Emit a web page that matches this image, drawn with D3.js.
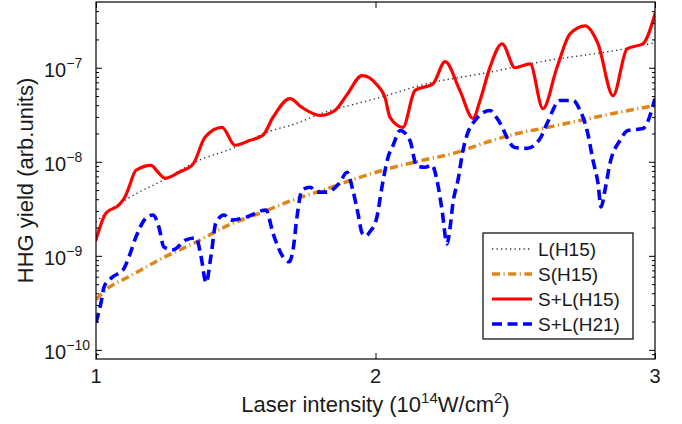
<!DOCTYPE html>
<html>
<head>
<meta charset="utf-8">
<script src="https://cdn.jsdelivr.net/npm/d3@7"></script>
<style>
  body { margin: 0; background: #fff; }
  svg { display: block; font-family: "Liberation Sans", Arial, Helvetica, sans-serif; }
</style>
</head>
<body>
<svg id="chart" width="682" height="424"></svg>
<script>
// Laser intensity in units of 1e14 W/cm^2, harmonic yield in arb. units

// L(H15): long trajectory, harmonic 15
const lIntensity = [1.000, 1.050, 1.122, 1.240, 1.369, 1.490, 1.619, 1.705, 1.837, 1.934, 2.027, 2.170, 2.399, 2.614, 2.850, 3.000];
const lYield     = [2.29e-9, 3.07e-9, 4.21e-9, 6.37e-9, 1.04e-8, 1.39e-8, 2.10e-8, 2.49e-8, 3.51e-8, 4.16e-8, 4.93e-8, 6.61e-8, 8.85e-8, 1.19e-7, 1.51e-7, 1.84e-7];

// S(H15): short trajectory, harmonic 15
const sIntensity = [1.000, 1.036, 1.118, 1.240, 1.358, 1.476, 1.597, 1.705, 1.812, 1.934, 2.052, 2.170, 2.292, 2.374, 2.492, 2.614, 2.732, 2.850, 3.000];
const sYield     = [3.42e-10, 4.37e-10, 6.00e-10, 9.52e-10, 1.40e-9, 2.13e-9, 2.92e-9, 3.92e-9, 4.99e-9, 6.69e-9, 8.53e-9, 1.04e-8, 1.26e-8, 1.53e-8, 1.95e-8, 2.32e-8, 2.75e-8, 3.26e-8, 3.97e-8];

// S+L(H15): coherent sum, harmonic 15
const slIntensity = [1.000, 1.036, 1.082, 1.107, 1.118, 1.143, 1.197, 1.222, 1.247, 1.297, 1.347, 1.390, 1.451, 1.497, 1.551, 1.597, 1.633, 1.694, 1.737, 1.801, 1.855, 1.898, 1.952, 2.005, 2.034, 2.052, 2.098, 2.141, 2.206, 2.249, 2.302, 2.349, 2.374, 2.410, 2.453, 2.499, 2.553, 2.599, 2.649, 2.696, 2.750, 2.796, 2.850, 2.900, 2.957, 3.000];
const slYield     = [1.48e-9, 2.85e-9, 3.47e-9, 4.42e-9, 5.37e-9, 8.13e-9, 9.18e-9, 7.74e-9, 6.69e-9, 7.74e-9, 9.41e-9, 1.82e-8, 2.32e-8, 1.50e-8, 1.69e-8, 1.91e-8, 2.96e-8, 4.70e-8, 3.78e-8, 3.11e-8, 3.51e-8, 5.18e-8, 8.23e-8, 6.61e-8, 4.82e-8, 2.96e-8, 2.32e-8, 5.71e-8, 6.77e-8, 1.16e-7, 5.71e-8, 2.89e-8, 4.48e-8, 1.02e-7, 1.80e-7, 1.00e-7, 1.10e-7, 3.68e-8, 1.00e-7, 2.29e-7, 2.79e-7, 1.80e-7, 5.05e-8, 1.59e-7, 1.80e-7, 3.74e-7];

// S+L(H21): coherent sum, harmonic 21
const sl21Intensity = [1.000, 1.018, 1.029, 1.061, 1.097, 1.118, 1.143, 1.179, 1.204, 1.225, 1.243, 1.275, 1.322, 1.358, 1.376, 1.394, 1.411, 1.429, 1.458, 1.483, 1.537, 1.608, 1.633, 1.669, 1.691, 1.705, 1.719, 1.737, 1.766, 1.791, 1.826, 1.873, 1.898, 1.919, 1.937, 1.952, 1.966, 1.980, 2.005, 2.023, 2.045, 2.063, 2.088, 2.123, 2.148, 2.177, 2.202, 2.220, 2.238, 2.256, 2.267, 2.277, 2.295, 2.313, 2.327, 2.356, 2.410, 2.435, 2.499, 2.542, 2.589, 2.614, 2.660, 2.707, 2.732, 2.757, 2.778, 2.796, 2.807, 2.821, 2.839, 2.875, 2.903, 2.957, 3.000];
const sl21Yield     = [1.95e-10, 3.18e-10, 4.70e-10, 6.00e-10, 7.11e-10, 9.76e-10, 1.59e-9, 2.52e-9, 2.72e-9, 2.02e-9, 1.24e-9, 1.16e-9, 1.48e-9, 1.55e-9, 9.76e-10, 5.18e-10, 9.76e-10, 2.24e-9, 2.72e-9, 2.40e-9, 2.58e-9, 3.07e-9, 1.75e-9, 9.76e-10, 8.64e-10, 1.16e-9, 2.58e-9, 4.99e-9, 5.37e-9, 4.76e-9, 4.76e-9, 6.07e-9, 7.74e-9, 4.99e-9, 2.85e-9, 1.75e-9, 1.63e-9, 1.80e-9, 2.58e-9, 5.37e-9, 1.12e-8, 1.50e-8, 2.15e-8, 1.69e-8, 8.96e-9, 8.75e-9, 9.18e-9, 6.37e-9, 3.07e-9, 1.34e-9, 2.02e-9, 3.64e-9, 6.37e-9, 1.32e-8, 1.91e-8, 2.75e-8, 3.51e-8, 2.89e-8, 1.42e-8, 1.39e-8, 1.77e-8, 2.56e-8, 4.48e-8, 4.48e-8, 3.51e-8, 2.15e-8, 1.04e-8, 5.92e-9, 3.30e-9, 4.99e-9, 9.64e-9, 1.69e-8, 2.15e-8, 2.26e-8, 4.70e-8];

const seriesNames = ["L(H15)", "S(H15)", "S+L(H15)", "S+L(H21)"];
const xTickValues = [1, 2, 3];
const yMajorTicks = [1e-10, 1e-9, 1e-8, 1e-7];
const yTickExponents = ["\u221210", "\u22129", "\u22128", "\u22127"];

const svg = d3.select("#chart");
const plot = { left: 96, top: 2, right: 655, bottom: 359 };

const x = d3.scaleLinear().domain([1, 3]).range([plot.left, plot.right]);
const y = d3.scaleLog().domain([8e-11, 5e-7]).range([plot.bottom, plot.top]);

// minor log ticks (2..9 per decade) inside the domain
const yMinorTicks = [];
for (let e = -11; e <= -7; e++) {
  for (let k = 2; k <= 9; k++) {
    const v = k * Math.pow(10, e);
    if (v > y.domain()[0] && v < y.domain()[1]) yMinorTicks.push(v);
  }
}

const styles = [
  { color: "#333333", width: 1.4, dash: "1.3,3.2", cap: "butt" },
  { color: "#e0851a", width: 3.5, dash: "8,3.5,1.2,3.5", cap: "butt" },
  { color: "#ff0000", width: 3.2, dash: null, cap: "round" },
  { color: "#0000ff", width: 3.6, dash: "10,5.5", cap: "butt" }
];

const series = [
  d3.zip(lIntensity, lYield),
  d3.zip(sIntensity, sYield),
  d3.zip(slIntensity, slYield),
  d3.zip(sl21Intensity, sl21Yield)
];

// clip curves to the axes box
svg.append("defs").append("clipPath").attr("id", "plotClip")
  .append("rect")
  .attr("x", plot.left).attr("y", plot.top)
  .attr("width", plot.right - plot.left).attr("height", plot.bottom - plot.top);

const line = d3.line()
  .x(d => x(d[0]))
  .y(d => y(d[1]))
  .curve(d3.curveMonotoneX);

const curves = svg.append("g").attr("clip-path", "url(#plotClip)");
series.forEach((data, i) => {
  const st = styles[i];
  curves.append("path")
    .datum(data)
    .attr("d", line)
    .attr("fill", "none")
    .attr("stroke", st.color)
    .attr("stroke-width", st.width)
    .attr("stroke-linecap", st.cap)
    .attr("stroke-linejoin", "round")
    .attr("stroke-dasharray", st.dash);
});

// axes: inward ticks on all four sides
const tickStyle = g => {
  g.select(".domain").remove();
  g.selectAll(".tick line").attr("stroke", "#000").attr("stroke-width", 1);
  g.selectAll(".tick text").remove();
};

svg.append("g").attr("transform", `translate(0,${plot.bottom})`)
  .call(d3.axisBottom(x).tickValues(xTickValues).tickSizeInner(-6).tickSizeOuter(0)).call(tickStyle);
svg.append("g").attr("transform", `translate(0,${plot.top})`)
  .call(d3.axisTop(x).tickValues(xTickValues).tickSizeInner(-6).tickSizeOuter(0)).call(tickStyle);

svg.append("g").attr("transform", `translate(${plot.left},0)`)
  .call(d3.axisLeft(y).tickValues(yMajorTicks).tickSizeInner(-6).tickSizeOuter(0)).call(tickStyle);
svg.append("g").attr("transform", `translate(${plot.left},0)`)
  .call(d3.axisLeft(y).tickValues(yMinorTicks).tickSizeInner(-3).tickSizeOuter(0)).call(tickStyle);
svg.append("g").attr("transform", `translate(${plot.right},0)`)
  .call(d3.axisRight(y).tickValues(yMajorTicks).tickSizeInner(-6).tickSizeOuter(0)).call(tickStyle);
svg.append("g").attr("transform", `translate(${plot.right},0)`)
  .call(d3.axisRight(y).tickValues(yMinorTicks).tickSizeInner(-3).tickSizeOuter(0)).call(tickStyle);

// axes box
svg.append("rect")
  .attr("x", plot.left).attr("y", plot.top)
  .attr("width", plot.right - plot.left).attr("height", plot.bottom - plot.top)
  .attr("fill", "none").attr("stroke", "#000").attr("stroke-width", 1.2);

// x tick labels
svg.append("g").selectAll("text")
  .data(xTickValues).join("text")
  .attr("x", d => x(d)).attr("y", 383)
  .attr("text-anchor", "middle")
  .attr("font-size", 20).attr("fill", "#1a1a1a")
  .text(d => d);

// y tick labels as powers of ten
const yLabels = svg.append("g").selectAll("text")
  .data(yMajorTicks).join("text")
  .attr("x", 44).attr("y", d => y(d) + 9)
  .attr("font-size", 20).attr("fill", "#1a1a1a");
yLabels.append("tspan").text("10");
yLabels.append("tspan")
  .attr("font-size", 14).attr("dy", -9)
  .text((d, i) => yTickExponents[i]);

// axis titles
const xTitle = svg.append("text")
  .attr("x", (plot.left + plot.right) / 2).attr("y", 412)
  .attr("text-anchor", "middle")
  .attr("font-size", 22).attr("fill", "#1a1a1a");
xTitle.append("tspan").text("Laser intensity (10");
xTitle.append("tspan").attr("font-size", 15).attr("dy", -9).text("14");
xTitle.append("tspan").attr("dy", 9).text("W/cm");
xTitle.append("tspan").attr("font-size", 15).attr("dy", -9).text("2");
xTitle.append("tspan").attr("dy", 9).text(")");

svg.append("text")
  .attr("transform", `translate(33,${(plot.top + plot.bottom) / 2}) rotate(-90)`)
  .attr("text-anchor", "middle")
  .attr("font-size", 22).attr("fill", "#1a1a1a")
  .text("HHG yield (arb.units)");

// legend
const legend = svg.append("g");
legend.append("rect")
  .attr("x", 483).attr("y", 233).attr("width", 150).attr("height", 106)
  .attr("fill", "#fff").attr("stroke", "#000").attr("stroke-width", 1.2);
const rowY = d3.scalePoint().domain(seriesNames).range([249, 324]);
seriesNames.forEach((name, i) => {
  const st = styles[i];
  const yy = rowY(name);
  legend.append("line")
    .attr("x1", 492).attr("x2", 532).attr("y1", yy).attr("y2", yy)
    .attr("stroke", st.color).attr("stroke-width", st.width)
    .attr("stroke-dasharray", st.dash);
  legend.append("text")
    .attr("x", 538).attr("y", yy + 7)
    .attr("font-size", 19).attr("fill", "#1a1a1a")
    .text(name);
});
</script>
</body>
</html>
